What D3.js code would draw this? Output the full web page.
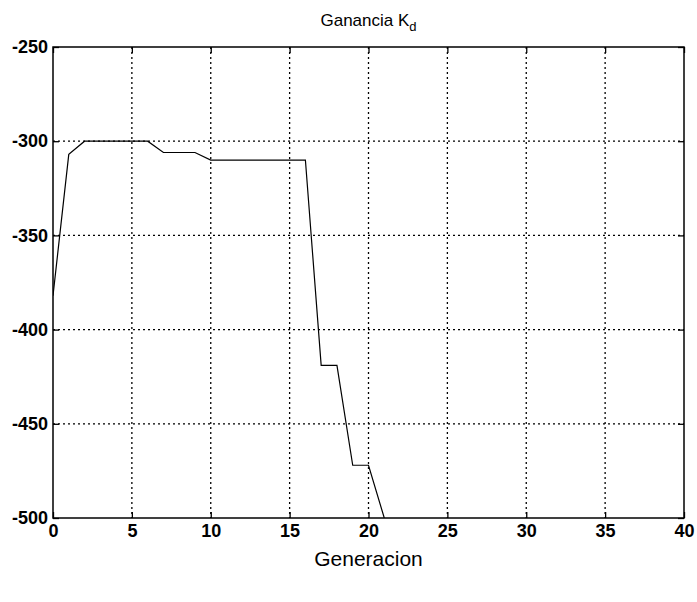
<!DOCTYPE html>
<html>
<head>
<meta charset="utf-8">
<script src="https://cdn.jsdelivr.net/npm/d3@7"></script>
<style>
body{margin:0;background:#fff;}
text{font-family:"Liberation Sans",Arial,sans-serif;}
</style>
</head>
<body>
<div id="graph1"></div>
<script>
// generaciones y ganancia Kd
var generacion=[0,1,2,3,4,5,6,7,8,9,10,11,12,13,14,15,16,17,18,19,20,21];
var ganancia=[-382,-307,-300,-300,-300,-300,-300,-306,-306,-306,-310,-310,-310,-310,-310,-310,-310,-419,-419,-472,-472,-500];
var x_ticks=[0,5,10,15,20,25,30,35,40];
var y_ticks=[-500,-450,-400,-350,-300,-250];

function make_line_plot(x_data,y_data,gid){
	var margin={left:53,top:47,right:13,bottom:84};
	var width=697-margin.left-margin.right;
	var height=602-margin.top-margin.bottom;

	var xScale=d3.scaleLinear().domain([0,40]).range([0,width]);
	var yScale=d3.scaleLinear().domain([-500,-250]).range([height,0]);

	var svg=d3.select("#graph"+gid).append("svg")
		.attr("width",697)
		.attr("height",602)
	.append("g")
		.attr("transform","translate("+margin.left+","+margin.top+")");

	svg.append("defs").append("clipPath").attr("id","clip")
		.append("rect").attr("width",width).attr("height",height);

	// rejilla punteada
	svg.selectAll(".gx").data(x_ticks.slice(1,-1)).enter().append("line")
		.attr("x1",function(d){return xScale(d);})
		.attr("x2",function(d){return xScale(d);})
		.attr("y1",0).attr("y2",height)
		.attr("stroke","#000").attr("stroke-width",1.3)
		.attr("stroke-dasharray","2,3");
	svg.selectAll(".gy").data(y_ticks.slice(1,-1)).enter().append("line")
		.attr("y1",function(d){return yScale(d);})
		.attr("y2",function(d){return yScale(d);})
		.attr("x1",0).attr("x2",width)
		.attr("stroke","#000").attr("stroke-width",1.3)
		.attr("stroke-dasharray","2,3");

	var line=d3.line()
		.x(function(d,i){return xScale(x_data[i]);})
		.y(function(d){return yScale(d);});

	svg.append("path")
		.datum(y_data)
		.attr("clip-path","url(#clip)")
		.attr("fill","none")
		.attr("stroke","#000")
		.attr("stroke-width",1.2)
		.attr("d",line);

	// ejes con marcas hacia adentro, guion normal como signo
	var fmt=function(d){return String(d);};
	svg.append("g").attr("transform","translate(0,"+height+")")
		.call(d3.axisBottom(xScale).tickValues(x_ticks).tickSize(-6).tickPadding(6).tickFormat(fmt));
	svg.append("g")
		.call(d3.axisLeft(yScale).tickValues(y_ticks).tickSize(-6).tickPadding(5).tickFormat(fmt));
	svg.append("g")
		.call(d3.axisTop(xScale).tickValues(x_ticks).tickSize(-6).tickFormat(""));
	svg.append("g").attr("transform","translate("+width+",0)")
		.call(d3.axisRight(yScale).tickValues(y_ticks).tickSize(-6).tickFormat(""));

	svg.selectAll(".domain").remove();
	svg.selectAll(".tick line").attr("stroke","#000").attr("stroke-width",1.3);
	svg.selectAll(".tick text").attr("fill","#000")
		.style("font-family","Liberation Sans, Arial, sans-serif")
		.style("font-size","18px").style("font-weight","bold");

	svg.append("rect")
		.attr("width",width).attr("height",height)
		.attr("fill","none").attr("stroke","#000").attr("stroke-width",1.5);

	svg.append("text")
		.attr("x",width/2).attr("y",-21)
		.attr("text-anchor","middle")
		.style("font-size","17px")
		.text("Ganancia K")
		.append("tspan").attr("dy",5).style("font-size","13px").text("d");

	svg.append("text")
		.attr("x",width/2).attr("y",height+48)
		.attr("text-anchor","middle")
		.style("font-size","21px")
		.text("Generacion");
}

make_line_plot(generacion,ganancia,1);
</script>
</body>
</html>
